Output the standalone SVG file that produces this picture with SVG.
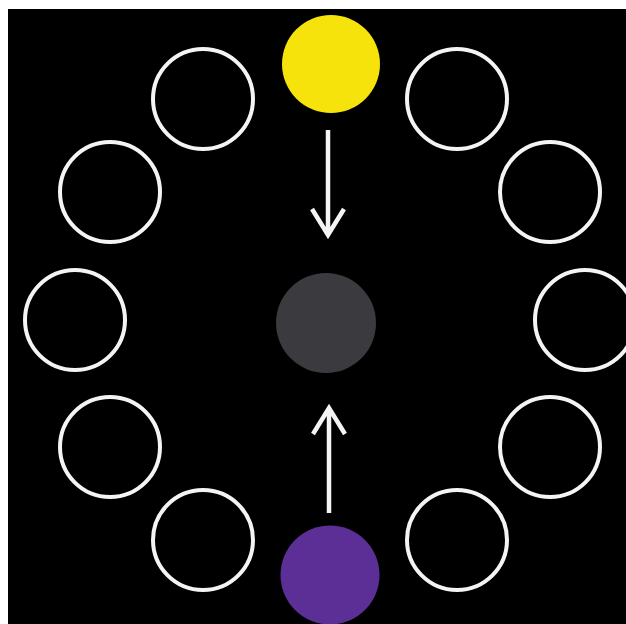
<svg xmlns="http://www.w3.org/2000/svg" width="626" height="624" viewBox="0 0 626 624">
<style>
.ring{fill:none;stroke:#f4f4f4;stroke-width:4}
.arr{fill:none;stroke:#f4f4f4;stroke-width:4.5;stroke-linecap:butt;stroke-linejoin:miter}
</style>
<rect x="0" y="0" width="626" height="624" fill="#ffffff"/>
<rect x="8" y="9" width="618" height="615" fill="#000000"/>
<g id="connectors">
<path class="arr" d="M328,130 V234 M312,209 L328,235 L344,209"/>
<path class="arr" d="M329,513 V409 M313,434 L329,408 L345,434"/>
</g>
<g id="yellow"><circle cx="331" cy="64" r="49" fill="#f7e30c"/></g>
<g id="center"><circle cx="326" cy="323" r="50" fill="#3b3a3e"/></g>
<g id="purple"><circle cx="330" cy="575" r="49.5" fill="#5c2f96"/></g>
<g id="ring1"><circle class="ring" cx="203" cy="99" r="50"/></g>
<g id="ring2"><circle class="ring" cx="457" cy="99" r="50"/></g>
<g id="ring3"><circle class="ring" cx="110" cy="192" r="50"/></g>
<g id="ring4"><circle class="ring" cx="550" cy="192" r="50"/></g>
<g id="ring5"><circle class="ring" cx="75" cy="320" r="50"/></g>
<g id="ring6"><circle class="ring" cx="585" cy="320" r="50"/></g>
<g id="ring7"><circle class="ring" cx="110" cy="447" r="50"/></g>
<g id="ring8"><circle class="ring" cx="550" cy="447" r="50"/></g>
<g id="ring9"><circle class="ring" cx="203" cy="540" r="50"/></g>
<g id="ring10"><circle class="ring" cx="457" cy="540" r="50"/></g>
</svg>
